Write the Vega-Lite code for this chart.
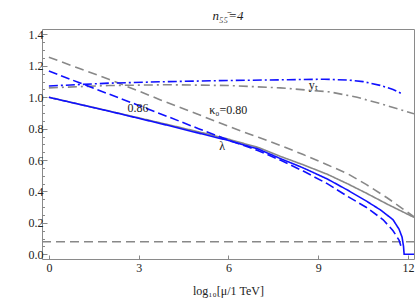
{
  "$schema": "https://vega.github.io/schema/vega-lite/v6.json",
  "width": 372,
  "height": 230,
  "autosize": "none",
  "padding": {"left": 42, "top": 29, "right": 1, "bottom": 44},
  "background": "white",
  "config": {
    "view": {"stroke": "#8a8a8a", "strokeWidth": 1},
    "font": "Liberation Serif"
  },
  "title": {
    "text": "n₅₅̄=4",
    "font": "Liberation Serif",
    "fontSize": 13,
    "fontWeight": "normal",
    "fontStyle": "italic",
    "color": "#222",
    "anchor": "middle",
    "offset": 5
  },
  "datasets": {
    "lines": [
      {"series": "gray_hline", "x": -0.23, "y": 0.08},
      {"series": "gray_hline", "x": 12.2, "y": 0.08},

      {"series": "gray_solid", "x": 0, "y": 1.0},
      {"series": "gray_solid", "x": 2, "y": 0.913},
      {"series": "gray_solid", "x": 3, "y": 0.869},
      {"series": "gray_solid", "x": 4, "y": 0.825},
      {"series": "gray_solid", "x": 5, "y": 0.78},
      {"series": "gray_solid", "x": 6, "y": 0.733},
      {"series": "gray_solid", "x": 7, "y": 0.68},
      {"series": "gray_solid", "x": 7.73, "y": 0.624},
      {"series": "gray_solid", "x": 8.5, "y": 0.57},
      {"series": "gray_solid", "x": 9.3, "y": 0.51},
      {"series": "gray_solid", "x": 9.97, "y": 0.45},
      {"series": "gray_solid", "x": 10.6, "y": 0.39},
      {"series": "gray_solid", "x": 11.3, "y": 0.32},
      {"series": "gray_solid", "x": 12.2, "y": 0.235},

      {"series": "gray_dash", "x": 0, "y": 1.255},
      {"series": "gray_dash", "x": 1, "y": 1.185},
      {"series": "gray_dash", "x": 2, "y": 1.115},
      {"series": "gray_dash", "x": 3, "y": 1.04},
      {"series": "gray_dash", "x": 3.71, "y": 0.985},
      {"series": "gray_dash", "x": 5, "y": 0.89},
      {"series": "gray_dash", "x": 6, "y": 0.815},
      {"series": "gray_dash", "x": 7, "y": 0.745},
      {"series": "gray_dash", "x": 7.73, "y": 0.694},
      {"series": "gray_dash", "x": 8.5, "y": 0.635},
      {"series": "gray_dash", "x": 9.3, "y": 0.57},
      {"series": "gray_dash", "x": 9.97, "y": 0.515},
      {"series": "gray_dash", "x": 10.6, "y": 0.445},
      {"series": "gray_dash", "x": 11.3, "y": 0.36},
      {"series": "gray_dash", "x": 11.97, "y": 0.27},
      {"series": "gray_dash", "x": 12.2, "y": 0.24},

      {"series": "gray_dashdot", "x": 0, "y": 1.06},
      {"series": "gray_dashdot", "x": 2, "y": 1.075},
      {"series": "gray_dashdot", "x": 4, "y": 1.08},
      {"series": "gray_dashdot", "x": 6, "y": 1.075},
      {"series": "gray_dashdot", "x": 7.73, "y": 1.06},
      {"series": "gray_dashdot", "x": 9.4, "y": 1.034},
      {"series": "gray_dashdot", "x": 10.3, "y": 1.0},
      {"series": "gray_dashdot", "x": 11.07, "y": 0.96},
      {"series": "gray_dashdot", "x": 12.2, "y": 0.895},

      {"series": "blue_solid", "x": 0, "y": 1.0},
      {"series": "blue_solid", "x": 1, "y": 0.956},
      {"series": "blue_solid", "x": 2, "y": 0.912},
      {"series": "blue_solid", "x": 3, "y": 0.866},
      {"series": "blue_solid", "x": 4, "y": 0.82},
      {"series": "blue_solid", "x": 5, "y": 0.772},
      {"series": "blue_solid", "x": 6, "y": 0.725},
      {"series": "blue_solid", "x": 7, "y": 0.67},
      {"series": "blue_solid", "x": 7.73, "y": 0.61},
      {"series": "blue_solid", "x": 8.5, "y": 0.55},
      {"series": "blue_solid", "x": 9.3, "y": 0.48},
      {"series": "blue_solid", "x": 9.97, "y": 0.41},
      {"series": "blue_solid", "x": 10.6, "y": 0.34},
      {"series": "blue_solid", "x": 11.1, "y": 0.28},
      {"series": "blue_solid", "x": 11.5, "y": 0.22},
      {"series": "blue_solid", "x": 11.7, "y": 0.16},
      {"series": "blue_solid", "x": 11.8, "y": 0.11},
      {"series": "blue_solid", "x": 11.85, "y": 0.05},
      {"series": "blue_solid", "x": 11.87, "y": 0.0},
      {"series": "blue_solid", "x": 12.2, "y": 0.0},

      {"series": "blue_dash", "x": 0, "y": 1.167},
      {"series": "blue_dash", "x": 1, "y": 1.094},
      {"series": "blue_dash", "x": 2, "y": 1.021},
      {"series": "blue_dash", "x": 3, "y": 0.948},
      {"series": "blue_dash", "x": 4, "y": 0.875},
      {"series": "blue_dash", "x": 5, "y": 0.80},
      {"series": "blue_dash", "x": 6, "y": 0.728},
      {"series": "blue_dash", "x": 7, "y": 0.66},
      {"series": "blue_dash", "x": 7.73, "y": 0.60},
      {"series": "blue_dash", "x": 8.5, "y": 0.53},
      {"series": "blue_dash", "x": 9.3, "y": 0.45},
      {"series": "blue_dash", "x": 9.97, "y": 0.37},
      {"series": "blue_dash", "x": 10.6, "y": 0.30},
      {"series": "blue_dash", "x": 11.17, "y": 0.22},
      {"series": "blue_dash", "x": 11.5, "y": 0.15},
      {"series": "blue_dash", "x": 11.7, "y": 0.09},
      {"series": "blue_dash", "x": 11.8, "y": 0.03},

      {"series": "blue_dashdot", "x": 0, "y": 1.072},
      {"series": "blue_dashdot", "x": 2, "y": 1.09},
      {"series": "blue_dashdot", "x": 4, "y": 1.1},
      {"series": "blue_dashdot", "x": 6, "y": 1.107},
      {"series": "blue_dashdot", "x": 8, "y": 1.112},
      {"series": "blue_dashdot", "x": 9.2, "y": 1.115},
      {"series": "blue_dashdot", "x": 10, "y": 1.11},
      {"series": "blue_dashdot", "x": 10.5, "y": 1.1},
      {"series": "blue_dashdot", "x": 11.07, "y": 1.076},
      {"series": "blue_dashdot", "x": 11.5, "y": 1.05},
      {"series": "blue_dashdot", "x": 11.8, "y": 1.022}
    ],
    "labels": [
      {"text": "0.86", "x": 2.98, "y": 0.93},
      {"text": "κ₀=0.80", "x": 5.99, "y": 0.917},
      {"text": "λ", "x": 5.79, "y": 0.688},
      {"text": "yₜ", "x": 8.83, "y": 1.076}
    ]
  },
  "resolve": {"axis": {"y": "independent"}},
  "layer": [
    {
      "data": {"name": "lines"},
      "mark": {"type": "line", "clip": true},
      "encoding": {
        "x": {
          "field": "x", "type": "quantitative",
          "scale": {"domain": [-0.23, 12.2], "nice": false, "zero": false},
          "axis": {
            "values": [0, 3, 6, 9, 12],
            "tickSize": -4, "tickColor": "#888", "grid": false, "domain": false,
            "labelFont": "Liberation Serif", "labelFontSize": 12, "labelColor": "#222",
            "labelPadding": 7,
            "title": "log₁₀[μ/1 TeV]", "titleFont": "Liberation Serif", "titleFontSize": 12,
            "titleFontWeight": "normal", "titleColor": "#222", "titlePadding": 12
          }
        },
        "y": {
          "field": "y", "type": "quantitative",
          "scale": {"domain": [-0.03, 1.435], "nice": false, "zero": false},
          "axis": {
            "values": [0, 0.2, 0.4, 0.6, 0.8, 1.0, 1.2, 1.4],
            "format": ".1f",
            "tickSize": -5, "tickColor": "#888", "grid": false, "domain": false,
            "labelFont": "Liberation Serif", "labelFontSize": 12, "labelColor": "#222",
            "labelPadding": 4, "title": null
          }
        },
        "color": {
          "field": "series", "type": "nominal", "legend": null,
          "scale": {
            "domain": ["gray_hline", "gray_solid", "gray_dash", "gray_dashdot", "blue_solid", "blue_dash", "blue_dashdot"],
            "range": ["#888888", "#888888", "#888888", "#888888", "#1010ff", "#1010ff", "#1010ff"]
          }
        },
        "strokeDash": {
          "field": "series", "type": "nominal", "legend": null,
          "scale": {
            "domain": ["gray_hline", "gray_solid", "gray_dash", "gray_dashdot", "blue_solid", "blue_dash", "blue_dashdot"],
            "range": [[9, 5], [1, 0], [9, 5], [9, 4, 2, 4], [1, 0], [9, 4], [9, 3, 2, 3]]
          }
        },
        "strokeWidth": {
          "field": "series", "type": "nominal", "legend": null,
          "scale": {
            "domain": ["gray_hline", "gray_solid", "gray_dash", "gray_dashdot", "blue_solid", "blue_dash", "blue_dashdot"],
            "range": [1.6, 1.6, 1.6, 1.6, 2, 2, 2]
          }
        }
      }
    },
    {
      "data": {"name": "labels"},
      "mark": {"type": "text", "font": "Liberation Serif", "fontSize": 12, "color": "#222", "align": "center", "baseline": "middle"},
      "encoding": {
        "x": {"field": "x", "type": "quantitative"},
        "y": {
          "field": "y", "type": "quantitative",
          "axis": {
            "orient": "left",
            "values": [0.05, 0.1, 0.15, 0.25, 0.3, 0.35, 0.45, 0.5, 0.55, 0.65, 0.7, 0.75, 0.85, 0.9, 0.95, 1.05, 1.1, 1.15, 1.25, 1.3, 1.35],
            "tickSize": -2.5, "tickColor": "#888", "labels": false, "domain": false, "grid": false, "title": null
          }
        },
        "text": {"field": "text"}
      }
    }
  ]
}
